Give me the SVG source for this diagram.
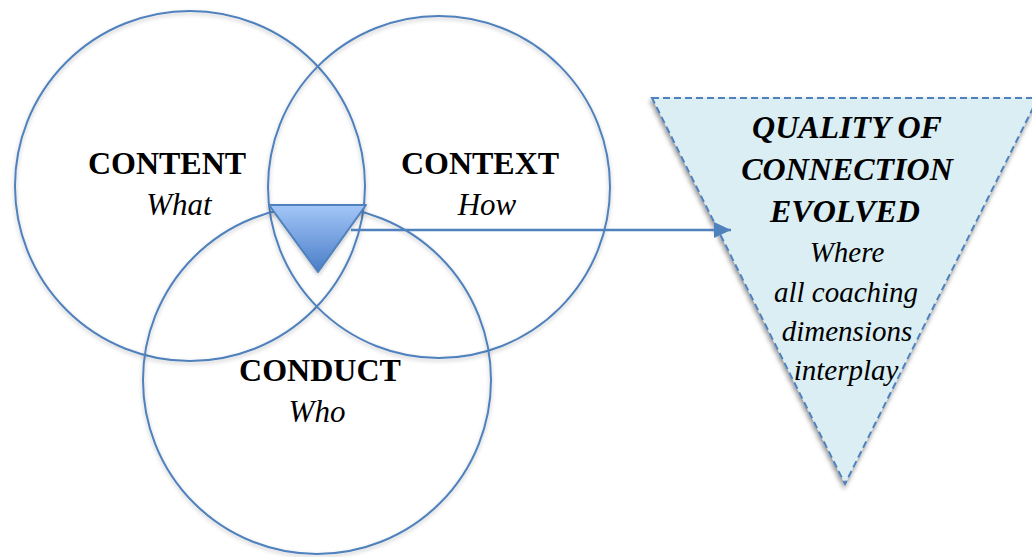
<svg xmlns="http://www.w3.org/2000/svg" width="1032" height="557" viewBox="0 0 1032 557">
<style>
.ring{fill:none;stroke:#4F81BD;stroke-width:2;filter:url(#soft)}
</style>
<defs>
<filter id="soft" x="-10%" y="-10%" width="120%" height="120%">
<feGaussianBlur in="SourceAlpha" stdDeviation="2"/>
<feOffset dx="0" dy="2" result="b"/>
<feComponentTransfer><feFuncA type="linear" slope="0.25"/></feComponentTransfer>
<feMerge><feMergeNode/><feMergeNode in="SourceGraphic"/></feMerge>
</filter>
<filter id="shadow" x="-10%" y="-10%" width="120%" height="120%">
<feGaussianBlur in="SourceAlpha" stdDeviation="2.5"/>
<feOffset dx="-1" dy="3" result="b"/>
<feComponentTransfer><feFuncA type="linear" slope="0.45"/></feComponentTransfer>
<feMerge><feMergeNode/><feMergeNode in="SourceGraphic"/></feMerge>
</filter>
<linearGradient id="tri" x1="0" y1="0" x2="0" y2="1">
<stop offset="0" stop-color="#A3C6F7"/>
<stop offset="1" stop-color="#4A7DC8"/>
</linearGradient>
<marker id="arr" markerUnits="userSpaceOnUse" markerWidth="18" markerHeight="16" refX="17" refY="8" orient="auto">
<path d="M0,0 L17,8 L0,16 Z" fill="#4F81BD"/>
</marker>
</defs>
<g id="content">
<circle class="ring" cx="190" cy="186" r="175"/>
<text x="167" y="174" text-anchor="middle" style="font-family:'Liberation Serif',serif;font-size:32px;font-weight:bold">CONTENT</text>
<text x="179" y="215" text-anchor="middle" style="font-family:'Liberation Serif',serif;font-size:31px;font-style:italic">What</text>
</g>
<g id="context">
<circle class="ring" cx="439" cy="187" r="171"/>
<text x="480" y="174" text-anchor="middle" style="font-family:'Liberation Serif',serif;font-size:32px;font-weight:bold">CONTEXT</text>
<text x="487" y="215" text-anchor="middle" style="font-family:'Liberation Serif',serif;font-size:31px;font-style:italic">How</text>
</g>
<g id="conduct">
<circle class="ring" cx="317" cy="380" r="174"/>
<text x="320" y="381" text-anchor="middle" style="font-family:'Liberation Serif',serif;font-size:32px;font-weight:bold">CONDUCT</text>
<text x="317" y="422" text-anchor="middle" style="font-family:'Liberation Serif',serif;font-size:31px;font-style:italic">Who</text>
</g>
<g id="core">
<path d="M269,205 L366,205 L318,272 Z" fill="url(#tri)" stroke="#4F81BD" stroke-width="2" stroke-linejoin="round" filter="url(#soft)"/>
</g>
<g id="quality">
<path d="M652,98 L1038,98 L845,484 Z" fill="#DAEEF3" stroke="#4F81BD" stroke-width="2" stroke-dasharray="7,4" filter="url(#shadow)"/>
<text x="847" y="138" text-anchor="middle" style="font-family:'Liberation Serif',serif;font-size:32px;font-style:italic;font-weight:bold">QUALITY OF</text>
<text x="847" y="180" text-anchor="middle" style="font-family:'Liberation Serif',serif;font-size:32px;font-style:italic;font-weight:bold">CONNECTION</text>
<text x="845" y="222" text-anchor="middle" style="font-family:'Liberation Serif',serif;font-size:32px;font-style:italic;font-weight:bold">EVOLVED</text>
<text x="847" y="262" text-anchor="middle" style="font-family:'Liberation Serif',serif;font-size:29px;font-style:italic">Where</text>
<text x="846" y="302" text-anchor="middle" style="font-family:'Liberation Serif',serif;font-size:29px;font-style:italic">all coaching</text>
<text x="847" y="341" text-anchor="middle" style="font-family:'Liberation Serif',serif;font-size:29px;font-style:italic">dimensions</text>
<text x="846" y="380" text-anchor="middle" style="font-family:'Liberation Serif',serif;font-size:29px;font-style:italic">interplay</text>
</g>
<g id="connectors">
<line x1="351" y1="230" x2="731" y2="230" stroke="#4F81BD" stroke-width="2.5" marker-end="url(#arr)"/>
</g>
</svg>
